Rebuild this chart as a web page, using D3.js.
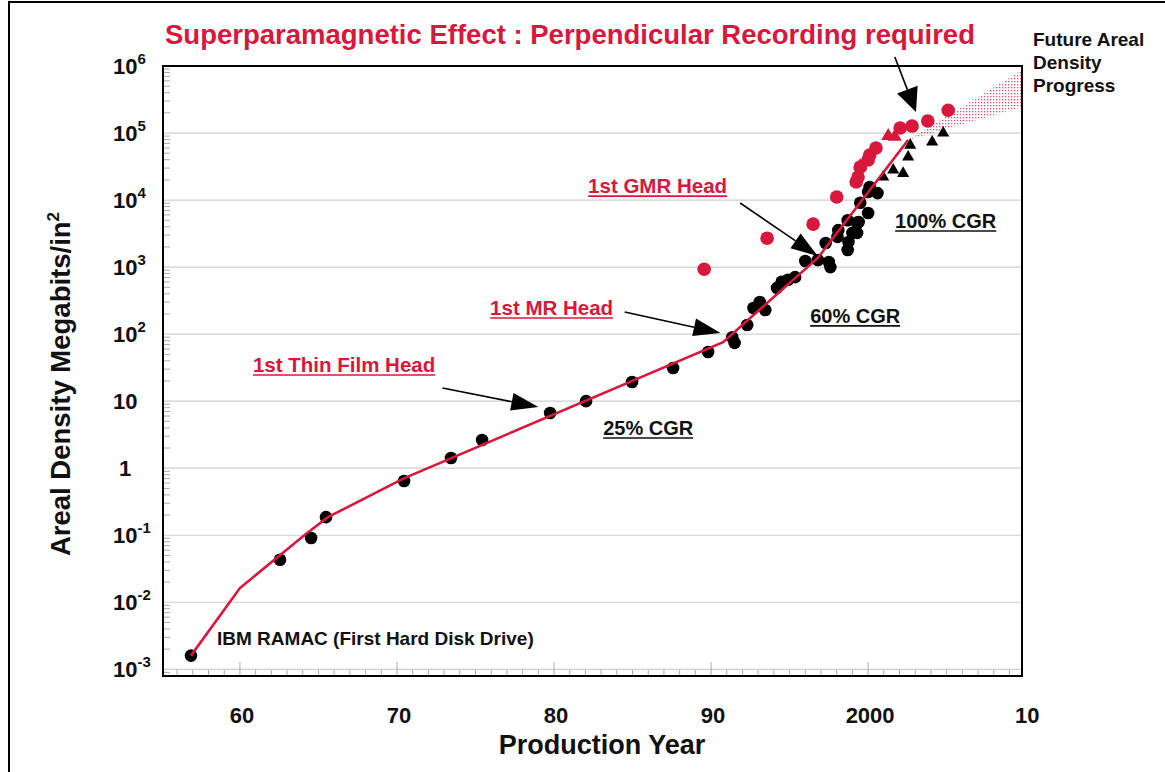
<!DOCTYPE html>
<html>
<head>
<meta charset="utf-8">
<script src="https://cdn.jsdelivr.net/npm/d3@7"></script>
<style>
  body { margin: 0; background: #fff; }
  text { font-family: "Liberation Sans", Arial, Helvetica, sans-serif; font-weight: bold; }
</style>
</head>
<body>
<svg id="chart" width="1165" height="772"></svg>
<script>
// hard disk areal density, Mb/in^2
var blackYear = [1956.88, 1962.55, 1964.53, 1965.48, 1970.45, 1973.44, 1975.42, 1979.75, 1982.04, 1984.97, 1987.58, 1989.81,
    1991.35, 1991.5, 1992.3, 1992.7, 1993.1, 1993.45, 1994.2, 1994.5, 1994.9, 1995.35, 1996.0, 1996.8, 1997.5, 1997.6,
    1997.3, 1998.05, 1998.1, 1998.7, 1998.75, 1998.7, 1999.0, 1999.3, 1999.4, 2000.0, 1999.5, 2000.1, 2000.6, 2000.0, 1999.3];
var blackDensity = [0.0016, 0.043, 0.091, 0.186, 0.645, 1.42, 2.63, 6.65, 10.0, 19.3, 31.2, 54,
    90, 74, 137, 245, 302, 229, 490, 603, 646, 708, 1230, 1276, 1190, 1000,
    2290, 2820, 3560, 1800, 2370, 5000, 3240, 3240, 4700, 6400, 9100, 15700, 12700, 13200, 4600];

var redYear = [1989.56, 1993.57, 1996.5, 1998.0, 1999.24, 1999.36, 1999.5, 2000.0, 2000.1, 2000.5, 2002.04, 2002.8, 2003.8, 2005.1];
var redDensity = [930, 2700, 4370, 11100, 18600, 22100, 31000, 39700, 47000, 59800, 119000, 127000, 151000, 219000];

var redTriYear = [2001.28, 2001.7, 1999.5];
var redTriDensity = [90400, 88000, 32200];

var triYear = [2002.68, 2002.55, 2001.6, 2000.96, 2002.23, 2004.08, 2004.78];
var triDensity = [66000, 44000, 28000, 22100, 25000, 73500, 100000];

// trend line (25% / 60% / 100% CGR segments)
var lineYear = [1956.88, 1960.0, 1964.1, 1965.6, 1968.1, 1970.4, 1990.77, 1996.8, 2002.55];
var lineDensity = [0.0016, 0.0163, 0.1, 0.186, 0.37, 0.7, 76, 1370, 78700];

// future progress wedge
var bandYear = [2002.55, 2009.8, 2009.8];
var bandDensity = [78700, 870000, 245000];

var yearTicks = [1960, 1970, 1980, 1990, 2000, 2010];
var yearLabels = ["60", "70", "80", "90", "2000", "10"];
var decades = [-3, -2, -1, 0, 1, 2, 3, 4, 5, 6];

// annotations
var arrowFrom = [[1972.9, 15.7], [1984.5, 214], [1991.85, 9040], [2001.7, 1.36e6]];
var arrowTo = [[1979.0, 8.2], [1990.6, 104], [1996.8, 1460], [2003.05, 206000]];
var headLabels = ["1st GMR Head", "1st MR Head", "1st Thin Film Head"];
var headYear = [1982.17, 1975.93, 1960.83];
var headDensity = [12700, 193, 27.2];
var cgrLabels = ["100% CGR", "60% CGR", "25% CGR"];
var cgrYear = [2001.72, 1996.31, 1983.13];
var cgrDensity = [3830, 147, 3.13];

var RED = "#d8173d";

function drawChart() {
    var svg = d3.select("#chart");
    var left = 163, right = 1022, top = 66, bottom = 676;

    var x = d3.scaleLinear().domain([1955.1, 2009.8]).range([left, right]);
    var y = d3.scaleLog().domain([Math.pow(10, -3.1), 1e6]).range([bottom, top]);

    // outer frame
    svg.append("path")
        .attr("d", "M9,772 L9,2 L1165,2")
        .attr("fill", "none").attr("stroke", "#000").attr("stroke-width", 2);

    // dotted pattern for the wedge
    var pat = svg.append("defs").append("pattern")
        .attr("id", "dots").attr("width", 3).attr("height", 3)
        .attr("patternUnits", "userSpaceOnUse");
    pat.append("rect").attr("width", 1.3).attr("height", 1.3).attr("fill", RED).attr("opacity", 0.75);

    // gridlines
    svg.append("g").selectAll("line")
        .data(decades)
        .enter().append("line")
        .attr("x1", left).attr("x2", right)
        .attr("y1", function(d) { return y(Math.pow(10, d)); })
        .attr("y2", function(d) { return y(Math.pow(10, d)); })
        .attr("stroke", "#cfcfcf").attr("stroke-width", 1.2);

    // minor ticks on y
    var minor = [];
    for (var d = -4; d < 6; d++) {
        for (var k = 2; k < 10; k++) {
            var v = k * Math.pow(10, d);
            if (v > y.domain()[0]) minor.push(v);
        }
    }
    svg.append("g").selectAll("line")
        .data(minor)
        .enter().append("line")
        .attr("x1", left).attr("x2", left + 7)
        .attr("y1", function(d) { return y(d); })
        .attr("y2", function(d) { return y(d); })
        .attr("stroke", "#aaa").attr("stroke-width", 1);

    // ticks on x, every year
    svg.append("g").selectAll("line")
        .data(d3.range(1956, 2010))
        .enter().append("line")
        .attr("x1", function(d) { return x(d); })
        .attr("x2", function(d) { return x(d); })
        .attr("y1", bottom)
        .attr("y2", function(d) { return d % 10 == 0 ? bottom - 14 : bottom - 6; })
        .attr("stroke", "#aaa").attr("stroke-width", 1);

    // future wedge
    svg.append("path")
        .datum(d3.zip(bandYear, bandDensity))
        .attr("d", d3.line().x(function(d) { return x(d[0]); }).y(function(d) { return y(d[1]); }).curve(d3.curveLinearClosed))
        .attr("fill", "url(#dots)");

    // black disks
    svg.append("g").selectAll("circle")
        .data(d3.zip(blackYear, blackDensity))
        .enter().append("circle")
        .attr("cx", function(d) { return x(d[0]); })
        .attr("cy", function(d) { return y(d[1]); })
        .attr("r", 6.3)
        .attr("fill", "#000");

    var tri = d3.symbol().type(d3.symbolTriangle).size(64);
    svg.append("g").selectAll("path")
        .data(d3.zip(triYear, triDensity))
        .enter().append("path")
        .attr("d", tri)
        .attr("transform", function(d) { return "translate(" + x(d[0]) + "," + y(d[1]) + ")"; })
        .attr("fill", "#000");

    // trend line
    svg.append("path")
        .datum(d3.zip(lineYear, lineDensity))
        .attr("d", d3.line().x(function(d) { return x(d[0]); }).y(function(d) { return y(d[1]); }))
        .attr("fill", "none").attr("stroke", RED).attr("stroke-width", 2.6);

    svg.append("g").selectAll("circle")
        .data(d3.zip(redYear, redDensity))
        .enter().append("circle")
        .attr("cx", function(d) { return x(d[0]); })
        .attr("cy", function(d) { return y(d[1]); })
        .attr("r", 6.8)
        .attr("fill", RED);

    svg.append("g").selectAll("path")
        .data(d3.zip(redTriYear, redTriDensity))
        .enter().append("path")
        .attr("d", d3.symbol().type(d3.symbolTriangle).size(85))
        .attr("transform", function(d) { return "translate(" + x(d[0]) + "," + y(d[1]) + ")"; })
        .attr("fill", RED);

    // plot border
    svg.append("rect")
        .attr("x", left).attr("y", top)
        .attr("width", right - left).attr("height", bottom - top)
        .attr("fill", "none").attr("stroke", "#000").attr("stroke-width", 2);

    // arrows
    var arrows = svg.append("g");
    d3.zip(arrowFrom, arrowTo).forEach(function(a, i) {
        var x0 = x(a[0][0]), y0 = y(a[0][1]), x1 = x(a[1][0]), y1 = y(a[1][1]);
        var len = Math.sqrt((x1 - x0) * (x1 - x0) + (y1 - y0) * (y1 - y0));
        var ux = (x1 - x0) / len, uy = (y1 - y0) / len;
        var hl = i == 3 ? 24 : 27, hw = i == 3 ? 11 : 9;
        var bx = x1 - ux * hl, by = y1 - uy * hl;
        arrows.append("line")
            .attr("x1", x0).attr("y1", y0).attr("x2", bx).attr("y2", by)
            .attr("stroke", "#000").attr("stroke-width", 1.6);
        arrows.append("path")
            .attr("d", "M" + x1 + "," + y1 + "L" + (bx - uy * hw) + "," + (by + ux * hw) + "L" + (bx + uy * hw) + "," + (by - ux * hw) + "Z")
            .attr("fill", "#000");
    });

    // underlined labels
    function underlined(txt, px, py, color, size) {
        var t = svg.append("text")
            .attr("x", px).attr("y", py)
            .attr("fill", color).attr("font-size", size)
            .text(txt);
        var w = t.node().getComputedTextLength();
        svg.append("line")
            .attr("x1", px).attr("x2", px + w)
            .attr("y1", py + 3).attr("y2", py + 3)
            .attr("stroke", color).attr("stroke-width", 1.6);
    }
    headLabels.forEach(function(s, i) {
        underlined(s, x(headYear[i]), y(headDensity[i]), RED, 20.5);
    });
    cgrLabels.forEach(function(s, i) {
        underlined(s, x(cgrYear[i]), y(cgrDensity[i]), "#111", 20);
    });

    svg.append("text")
        .attr("x", x(1958.54)).attr("y", y(0.0023))
        .attr("font-size", 19).attr("fill", "#111")
        .text("IBM RAMAC (First Hard Disk Drive)");

    // y tick labels
    var yl = svg.append("g").selectAll("text")
        .data(decades)
        .enter().append("text")
        .attr("y", function(d) { return y(Math.pow(10, d)) + 8; })
        .attr("x", function(d) { return d == 0 ? left - 38 : left - 50; })
        .attr("text-anchor", function(d) { return d == 0 ? "middle" : "start"; })
        .attr("font-size", 22).attr("fill", "#111");
    yl.append("tspan").text(function(d) { return d == 0 ? "1" : "10"; });
    yl.filter(function(d) { return d != 0 && d != 1; })
        .append("tspan")
        .attr("dy", -10).attr("font-size", 15)
        .text(function(d) { return d; });

    // x tick labels
    svg.append("g").selectAll("text")
        .data(yearTicks)
        .enter().append("text")
        .attr("x", function(d) { return x(d) + 2; })
        .attr("y", 723)
        .attr("text-anchor", "middle")
        .attr("font-size", 22).attr("fill", "#111")
        .text(function(d, i) { return yearLabels[i]; });

    // titles
    svg.append("text")
        .attr("x", 570).attr("y", 44)
        .attr("text-anchor", "middle")
        .attr("font-size", 27.5).attr("fill", RED)
        .text("Superparamagnetic Effect : Perpendicular Recording required");

    svg.append("text")
        .attr("x", 602).attr("y", 754)
        .attr("text-anchor", "middle")
        .attr("font-size", 27).attr("fill", "#111")
        .text("Production Year");

    var yt = svg.append("text")
        .attr("transform", "translate(70,384) rotate(-90)")
        .attr("text-anchor", "middle")
        .attr("font-size", 27.5).attr("fill", "#111");
    yt.append("tspan").text("Areal Density Megabits/in");
    yt.append("tspan").attr("dy", -11).attr("font-size", 17).text("2");

    var fut = svg.append("text").attr("font-size", 19).attr("fill", "#111");
    ["Future Areal", "Density", "Progress"].forEach(function(s, i) {
        fut.append("tspan").attr("x", 1033).attr("y", 46 + i * 23).text(s);
    });
}

drawChart();
</script>
</body>
</html>
